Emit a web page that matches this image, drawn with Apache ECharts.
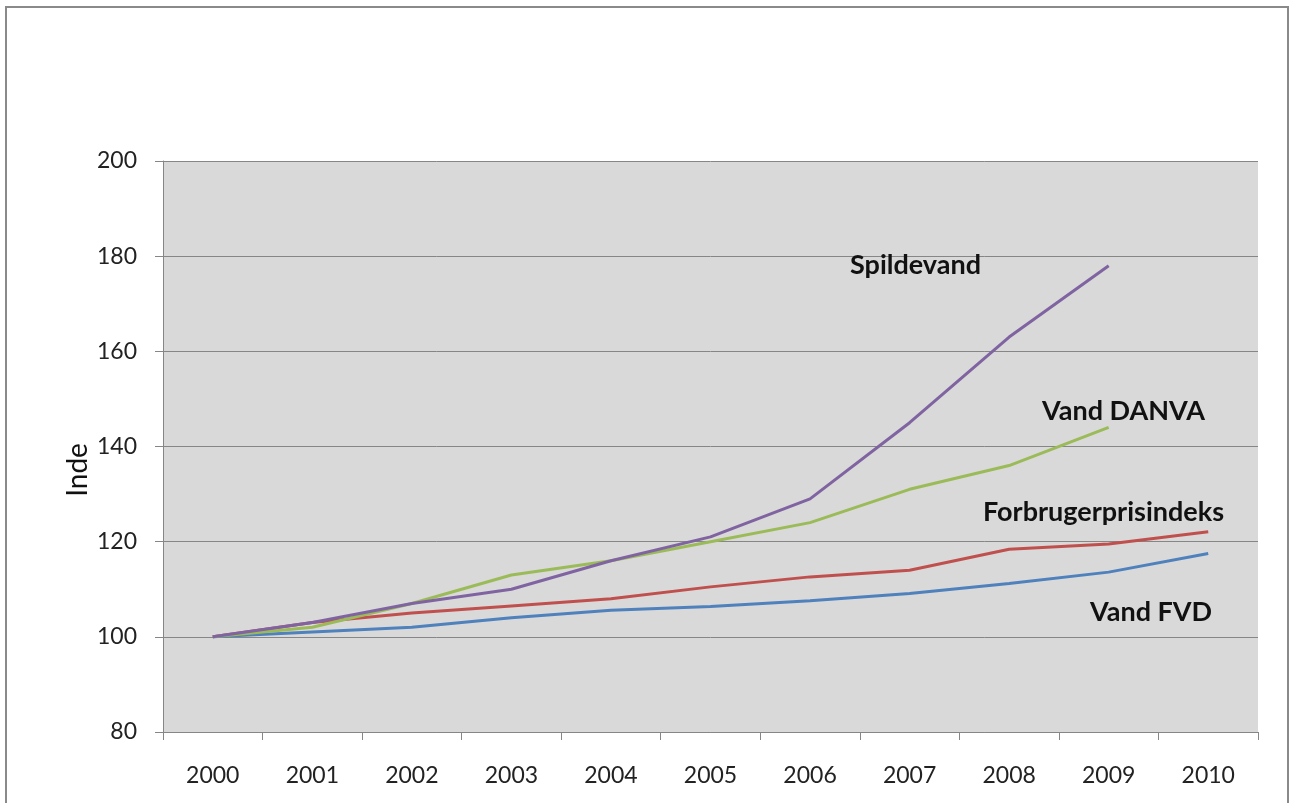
<!DOCTYPE html>
<html>
<head>
<meta charset="utf-8">
<script src="https://cdn.jsdelivr.net/npm/echarts@6/dist/echarts.min.js"></script>
<style>
html,body{margin:0;padding:0;background:#fff;}
#c{width:1290px;height:803px;}
</style>
</head>
<body>
<div id="c"></div>
<script>
const years = ['2000','2001','2002','2003','2004','2005','2006','2007','2008','2009','2010'];
const spildevand = [100, 103, 107, 110, 116, 121, 129, 145, 163, 178, null];
const vandDanva = [100, 102, 107, 113, 116, 120, 124, 131, 136, 144, null];
const forbruger = [100, 103, 105, 106.5, 108, 110.5, 112.6, 114, 118.4, 119.5, 122.1];
const vandFvd = [100, 101, 102, 104, 105.6, 106.4, 107.6, 109.1, 111.2, 113.6, 117.5];
const yTicks = [80, 100, 120, 140, 160, 180, 200];

const FONT = 'Lato, "Open Sans", sans-serif';
const chart = echarts.init(document.getElementById('c'), null, {renderer: 'canvas'});

function lineSeries(name, data, color) {
  return {
    name: name, type: 'line', data: data, symbol: 'none', smooth: false,
    connectNulls: false,
    lineStyle: {color: color, width: 3},
    itemStyle: {color: color}, z: 3
  };
}

const labelStyle = (text, x, yc) => ({
  type: 'text', x: x, y: yc,
  style: {text: text, font: 'bold 27px ' + FONT, fill: '#111', verticalAlign: 'middle', align: 'left'}, z: 10
});

chart.setOption({
  animation: false,
  backgroundColor: '#fff',
  grid: {left: 163, right: 32, top: 161, bottom: 71, show: true, backgroundColor: '#D9D9D9', borderWidth: 0},
  xAxis: {
    type: 'category', data: years, boundaryGap: true,
    axisLine: {show: true, lineStyle: {color: '#868686', width: 1}},
    axisTick: {show: true, length: 8, alignWithLabel: false, lineStyle: {color: '#868686'}},
    axisLabel: {fontSize: 23, color: '#222', fontFamily: FONT, margin: 32},
    splitLine: {show: false}
  },
  yAxis: {
    type: 'value', min: yTicks[0], max: yTicks[yTicks.length - 1], interval: 20,
    axisLine: {show: true, lineStyle: {color: '#868686', width: 1}},
    axisTick: {show: true, length: 8, inside: false, lineStyle: {color: '#868686'}},
    axisLabel: {fontSize: 23, color: '#222', fontFamily: FONT, margin: 26},
    splitLine: {show: true, lineStyle: {color: '#868686', width: 1}}
  },
  series: [
    lineSeries('Vand FVD', vandFvd, '#4F81BD'),
    lineSeries('Forbrugerprisindeks', forbruger, '#C0504D'),
    lineSeries('Vand DANVA', vandDanva, '#9BBB59'),
    lineSeries('Spildevand', spildevand, '#8064A2')
  ],
  graphic: [
    {type: 'rect', shape: {x: 6, y: 7, width: 1282, height: 900}, style: {fill: 'none', stroke: '#8a8a8a', lineWidth: 2}, z: 20},
    {type: 'text', x: 78, y: 470, rotation: Math.PI / 2,
     style: {text: 'Inde', font: '28px ' + FONT, fill: '#111', align: 'center', verticalAlign: 'middle'}, z: 10},
    labelStyle('Spildevand', 850, 265),
    labelStyle('Vand DANVA', 1042, 411),
    labelStyle('Forbrugerprisindeks', 983, 512),
    labelStyle('Vand FVD', 1090, 612)
  ]
});
</script>
</body>
</html>
